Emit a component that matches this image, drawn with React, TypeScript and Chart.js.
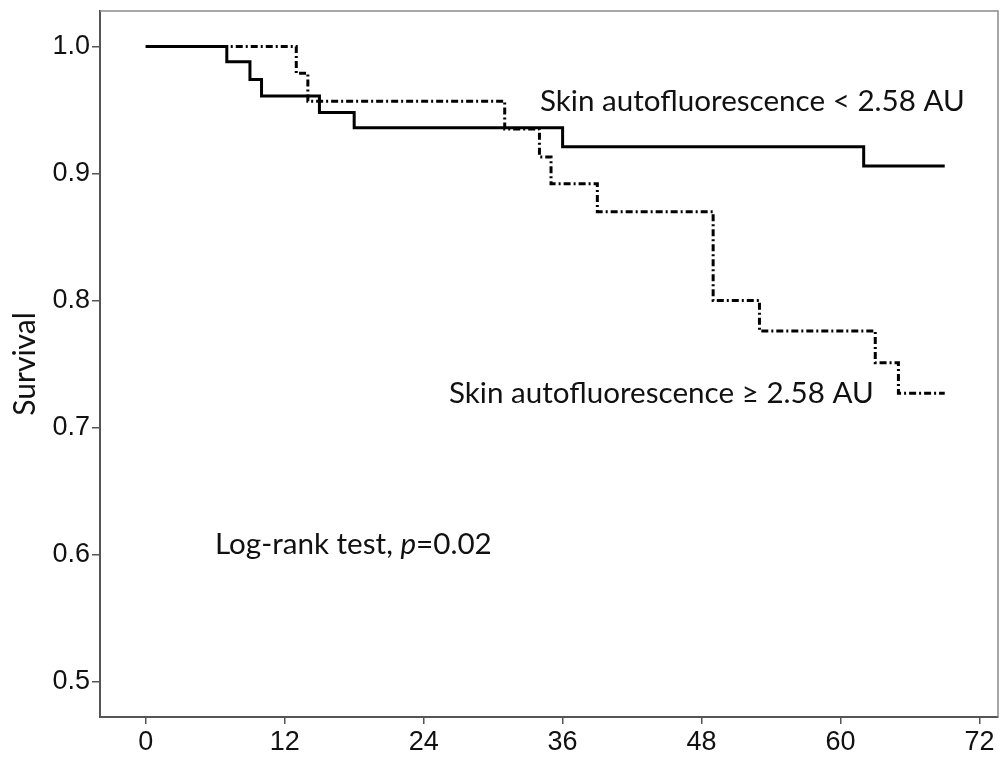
import React, { useEffect, useRef } from "react";
import { Chart, registerables } from "chart.js";

Chart.register(...registerables);

// Kaplan-Meier data (months, survival)
const lowTimes = [0, 7, 9, 10, 15, 18, 36, 62, 69];
const lowSurv = [1.0, 0.988, 0.974, 0.961, 0.948, 0.936, 0.921, 0.906, 0.906];
const highTimes = [0, 13, 14, 31, 34, 35, 39, 49, 53, 63, 65, 69];
const highSurv = [1.0, 0.979, 0.957, 0.935, 0.913, 0.892, 0.87, 0.8, 0.776, 0.751, 0.727, 0.727];

const xTicks = [0, 12, 24, 36, 48, 60, 72];
const yTicks = [0.5, 0.6, 0.7, 0.8, 0.9, 1.0];

const lowLabel = "Skin autofluorescence < 2.58 AU";
const highLabel = "Skin autofluorescence \u2265 2.58 AU";
const testLabel = "Log-rank test, ";
const testP = "p";
const testValue = "=0.02";
const yTitle = "Survival";

const TEXT_FONT = "Lato, 'Open Sans', sans-serif";
const TICK_FONT = "'Liberation Sans', Arial, sans-serif";

const annotations = {
  id: "kmAnnotations",
  afterDraw(chart: any) {
    const { ctx, chartArea, scales } = chart;
    const x = scales.x;
    const y = scales.y;
    ctx.save();
    // top and right frame
    ctx.strokeStyle = "#8a8a8a";
    ctx.lineWidth = 1.5;
    ctx.beginPath();
    ctx.moveTo(chartArea.left, chartArea.top);
    ctx.lineTo(chartArea.right, chartArea.top);
    ctx.lineTo(chartArea.right, chartArea.bottom);
    ctx.stroke();

    ctx.fillStyle = "#111";
    ctx.textBaseline = "alphabetic";
    ctx.textAlign = "left";
    ctx.font = `29.6px ${TEXT_FONT}`;
    ctx.fillText(lowLabel, x.getPixelForValue(34.05), y.getPixelForValue(0.9496));
    ctx.fillText(highLabel, x.getPixelForValue(26.19), y.getPixelForValue(0.7189));

    let tx = x.getPixelForValue(5.98);
    const ty = y.getPixelForValue(0.6);
    ctx.fillText(testLabel, tx, ty);
    tx += ctx.measureText(testLabel).width;
    ctx.font = `italic 29.6px ${TEXT_FONT}`;
    ctx.fillText(testP, tx, ty);
    tx += ctx.measureText(testP).width;
    ctx.font = `29.6px ${TEXT_FONT}`;
    ctx.fillText(testValue, tx, ty);
    ctx.restore();
  },
};

export default function App() {
  const ref = useRef<HTMLCanvasElement>(null);
  useEffect(() => {
    if (!ref.current) return;
    const chart = new Chart(ref.current, {
      type: "line",
      data: {
        datasets: [
          {
            label: lowLabel,
            data: lowTimes.map((t, i) => ({ x: t, y: lowSurv[i] })),
            borderColor: "#000",
            borderWidth: 3,
            stepped: "before",
            pointRadius: 0,
            fill: false,
          },
          {
            label: highLabel,
            data: highTimes.map((t, i) => ({ x: t, y: highSurv[i] })),
            borderColor: "#000",
            borderWidth: 3,
            borderDash: [7, 3, 2, 3],
            stepped: "before",
            pointRadius: 0,
            fill: false,
          },
        ],
      },
      options: {
        responsive: false,
        animation: false,
        layout: { padding: { top: 11, right: 2, left: 0, bottom: 0 } },
        plugins: { legend: { display: false }, tooltip: { enabled: false } },
        scales: {
          x: {
            type: "linear",
            min: -3.95,
            max: 73.6,
            afterBuildTicks: (s: any) => {
              s.ticks = xTicks.map((v) => ({ value: v }));
            },
            afterFit: (s: any) => {
              s.height = 45;
              s.paddingLeft = 0;
              s.paddingRight = 0;
            },
            grid: { drawOnChartArea: false, tickLength: 7, color: "#555", lineWidth: 1.5 },
            border: { color: "#555", width: 2 },
            ticks: {
              font: { family: TICK_FONT, size: 27 },
              color: "#111",
              padding: 2,
              maxRotation: 0,
              autoSkip: false,
              callback: (v: any) => String(v),
            },
          },
          y: {
            type: "linear",
            min: 0.472,
            max: 1.028,
            afterBuildTicks: (s: any) => {
              s.ticks = yTicks.map((v) => ({ value: v }));
            },
            afterFit: (s: any) => {
              s.width = 100;
              s.paddingTop = 0;
              s.paddingBottom = 0;
            },
            grid: { drawOnChartArea: false, tickLength: 8, color: "#555", lineWidth: 1.5 },
            border: { color: "#555", width: 2 },
            title: {
              display: true,
              text: yTitle,
              font: { family: TEXT_FONT, size: 30 },
              color: "#111",
              padding: { top: 7, bottom: 0 },
            },
            ticks: {
              font: { family: TICK_FONT, size: 27 },
              color: "#111",
              padding: 2,
              autoSkip: false,
              callback: (v: any) => Number(v).toFixed(1),
            },
          },
        },
      },
      plugins: [annotations],
    });
    return () => chart.destroy();
  }, []);
  return (
    <canvas
      ref={ref}
      width={1000}
      height={762}
      style={{ position: "absolute", left: 0, top: 0, display: "block", background: "#fff" }}
    />
  );
}
